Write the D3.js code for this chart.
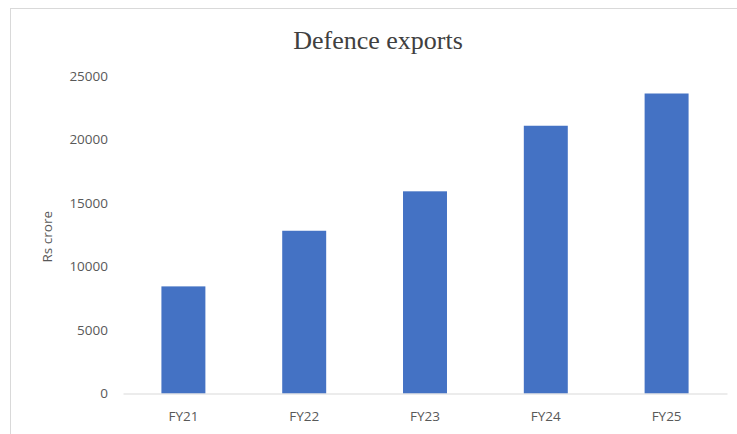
<!DOCTYPE html>
<html>
<head>
<meta charset="utf-8">
<script src="https://cdn.jsdelivr.net/npm/d3@7"></script>
<style>
  html, body { margin: 0; padding: 0; background: #fff; }
  svg { display: block; }
</style>
</head>
<body>
<svg id="chart" width="737" height="434"></svg>
<script>
const categories = ["FY21", "FY22", "FY23", "FY24", "FY25"];
const exportsValues = [8434, 12814, 15920, 21083, 23622];
const yTicks = [0, 5000, 10000, 15000, 20000, 25000];
const titleText = "Defence exports";
const yAxisLabel = "Rs crore";

const svg = d3.select("#chart");
const W = 737, H = 434;

// chart area border
svg.append("rect")
  .attr("x", 10.5).attr("y", 8.5)
  .attr("width", W + 20).attr("height", H + 20)
  .attr("fill", "#fff").attr("stroke", "#d9d9d9").attr("stroke-width", 1);

const plot = { left: 123, right: 727, top: 76, bottom: 393.5 };

const x = d3.scaleBand()
  .domain(categories)
  .range([plot.left, plot.right])
  .paddingInner(0.636)
  .paddingOuter(0.318);

const y = d3.scaleLinear()
  .domain([0, 25000])
  .range([plot.bottom, plot.top]);

// title
svg.append("text")
  .attr("x", 378).attr("y", 49)
  .attr("text-anchor", "middle")
  .attr("font-family", "'Liberation Serif', 'Times New Roman', serif")
  .attr("font-size", 26)
  .attr("fill", "#404040")
  .text(titleText);

// y axis (labels only)
const yAxis = d3.axisLeft(y).tickValues(yTicks).tickSize(0).tickPadding(0).tickFormat(d3.format("d"));
const yg = svg.append("g").attr("transform", `translate(108,0)`).call(yAxis);
yg.select(".domain").remove();
yg.selectAll("text")
  .attr("font-family", "'Open Sans', sans-serif")
  .attr("font-size", 13.5)
  .attr("fill", "#595959");

// y label
svg.append("text")
  .attr("transform", `translate(52,${(plot.top + plot.bottom) / 2 + 2}) rotate(-90)`)
  .attr("text-anchor", "middle")
  .attr("font-family", "'Open Sans', sans-serif")
  .attr("font-size", 13.5)
  .attr("fill", "#595959")
  .text(yAxisLabel);

// bars
svg.append("g").selectAll("rect")
  .data(categories)
  .join("rect")
  .attr("x", d => x(d))
  .attr("width", x.bandwidth())
  .attr("y", (d, i) => y(exportsValues[i]))
  .attr("height", (d, i) => y(0) - y(exportsValues[i]))
  .attr("fill", "#4472c4");

// x axis
const xAxis = d3.axisBottom(x).tickSize(0).tickPadding(18);
const xg = svg.append("g").attr("transform", `translate(0,${plot.bottom})`).call(xAxis);
xg.select(".domain").attr("stroke", "#d9d9d9").attr("stroke-width", 1);
xg.selectAll("text")
  .attr("font-family", "'Open Sans', sans-serif")
  .attr("font-size", 13.5)
  .attr("fill", "#595959");
</script>
</body>
</html>
